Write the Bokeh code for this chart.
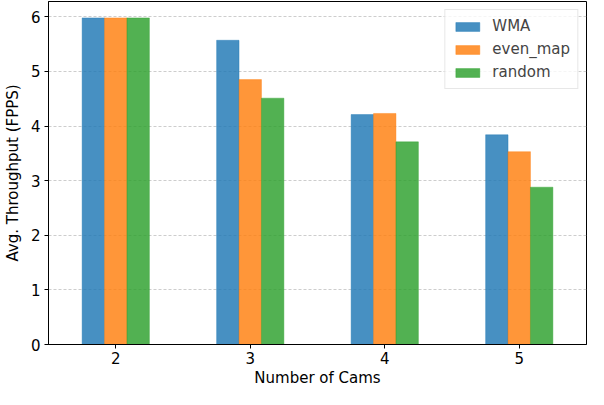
from bokeh.plotting import figure
from bokeh.models import ColumnDataSource, Range1d, FixedTicker, Legend, LegendItem
from bokeh.transform import dodge
from bokeh.embed import file_html
from bokeh.resources import INLINE

cams = [2, 3, 4, 5]
wma = [5.98, 5.57, 4.21, 3.84]
even_map = [5.98, 4.85, 4.23, 3.53]
random_ = [5.98, 4.51, 3.71, 2.88]
series_names = ["WMA", "even_map", "random"]
colors = ["#1f77b4", "#ff7f0e", "#2ca02c"]

src = ColumnDataSource(dict(cams=cams, WMA=wma, even_map=even_map, random=random_))

FONT = "DejaVu Sans"
p = figure(width=588, height=389, output_backend="svg", toolbar_location=None,
           x_range=Range1d(1.5, 5.5), y_range=Range1d(0, 6.28),
           min_border_left=46, min_border_right=2, min_border_top=1, min_border_bottom=36)

bw = 1 / 6
offsets = [-bw, 0, bw]
renderers = []
for name, col, off in zip(series_names, colors, offsets):
    r = p.vbar(x=dodge("cams", off, range=p.x_range), top=name, width=bw, source=src,
               fill_color=col, fill_alpha=0.82, line_color=col, line_alpha=0.4, line_width=1)
    renderers.append(r)

p.xaxis.ticker = FixedTicker(ticks=cams)
p.yaxis.ticker = FixedTicker(ticks=[0, 1, 2, 3, 4, 5, 6])
p.xaxis.axis_label = "Number of Cams"
p.yaxis.axis_label = "Avg. Throughput (FPPS)"
for ax in (p.xaxis, p.yaxis):
    ax.axis_label_text_font = FONT
    ax.axis_label_text_font_size = "15px"
    ax.axis_label_text_font_style = "normal"
    ax.major_label_text_font = FONT
    ax.major_label_text_font_size = "15px"
    ax.major_label_text_color = "black"
    ax.axis_label_text_color = "black"
    ax.axis_line_color = "black"
    ax.major_tick_line_color = "black"
    ax.major_tick_in = 0
    ax.major_tick_out = 4
    ax.minor_tick_line_color = None
p.xaxis.axis_label_standoff = 2
p.xaxis.major_label_standoff = 3
p.yaxis.axis_label_standoff = 6
p.yaxis.major_label_standoff = 4

p.xgrid.grid_line_color = None
p.ygrid.grid_line_color = "#b0b0b0"
p.ygrid.grid_line_dash = "3 2"
p.ygrid.grid_line_alpha = 0.8
p.ygrid.grid_line_width = 0.8

p.outline_line_color = "black"
p.outline_line_width = 1
p.outline_line_alpha = 1

legend = Legend(items=[LegendItem(label=n, renderers=[r]) for n, r in zip(series_names, renderers)],
                location="top_right")
legend.label_text_font = FONT
legend.label_text_font_size = "15px"
legend.glyph_width = 30
legend.glyph_height = 11
legend.label_height = 17
legend.spacing = 5
legend.padding = 7
legend.margin = 8
legend.label_standoff = 10
legend.border_line_color = "#d0d0d0"
legend.border_line_width = 1
legend.background_fill_alpha = 0.8
p.add_layout(legend)

open("out.html", "w").write(file_html(p, INLINE))
